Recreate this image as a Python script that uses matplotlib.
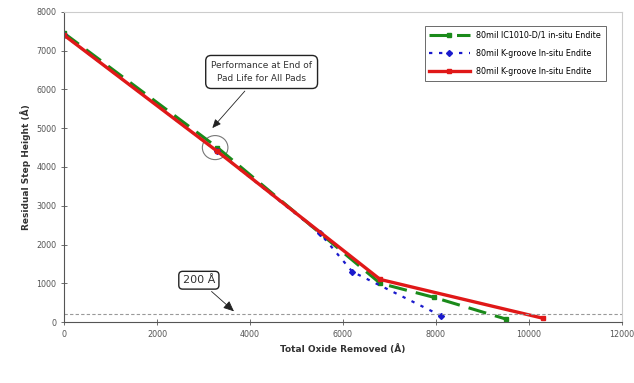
import numpy as np
import matplotlib
matplotlib.use("Agg")
import matplotlib.pyplot as plt
from matplotlib.patches import Ellipse

# data
greenX = [0, 3300, 6800, 7950, 9500]
greenY = [7450, 4500, 1000, 640, 80]
blueX = [0, 3300, 5500, 6200, 8100]
blueY = [7400, 4400, 2300, 1300, 170]
redX = [0, 3300, 6800, 10300]
redY = [7400, 4400, 1100, 100]
labels = ['80mil IC1010-D/1 in-situ Endite',
          '80mil K-groove In-situ Endite',
          '80mil K-groove In-situ Endite']
xTicks = [0, 2000, 4000, 6000, 8000, 10000, 12000]
yTicks = [0, 1000, 2000, 3000, 4000, 5000, 6000, 7000, 8000]
limitY = 200

fig = plt.figure(figsize=(6.34, 3.83), dpi=100)
ax = fig.add_axes([0.101, 0.159, 0.880, 0.810])

ax.plot(greenX, greenY, color='#1a8a1a', linestyle=(0, (6, 3)), linewidth=2.2,
        marker='s', markersize=3, label=labels[0])
ax.plot(blueX, blueY, color='#1a1acc', linestyle=(0, (1.5, 3)), linewidth=1.6,
        marker='D', markersize=3, label=labels[1])
ax.plot(redX, redY, color='#e01818', linestyle='-', linewidth=2.4,
        marker='s', markersize=3, label=labels[2])

ax.axhline(limitY, color='#999999', linestyle=(0, (3, 2)), linewidth=0.8)

ax.set_xlim(0, 12000)
ax.set_ylim(0, 8000)
ax.set_xticks(xTicks)
ax.set_yticks(yTicks)
ax.tick_params(labelsize=5.8, colors='#555555', direction='inout', length=4, width=0.6)
for s in ['left', 'bottom']:
    ax.spines[s].set_color('#555555')
    ax.spines[s].set_linewidth(0.8)
for s in ['top', 'right']:
    ax.spines[s].set_color('#cccccc')
    ax.spines[s].set_linewidth(0.8)

ax.set_xlabel('Total Oxide Removed (Å)', fontsize=6.5, fontweight='bold', color='#333333')
ax.set_ylabel('Residual Step Height (Å)', fontsize=6.5, fontweight='bold', color='#333333')

ax.annotate('Performance at End of\nPad Life for All Pads', xy=(3150, 4950), xytext=(4250, 6450),
            fontsize=6.5, ha='center', va='center', color='#333333', linespacing=1.6,
            bbox=dict(boxstyle='round,pad=0.6', fc='white', ec='#222222', lw=1.0),
            arrowprops=dict(arrowstyle='-|>,head_length=0.8,head_width=0.35',
                            color='#222222', lw=0.6))
ax.add_patch(Ellipse((3250, 4500), 550, 620, fill=False, ec='#777777', lw=0.8))

ax.annotate('200 Å', xy=(3700, 230), xytext=(2900, 1080),
            fontsize=8, ha='center', va='center', color='#333333',
            bbox=dict(boxstyle='round,pad=0.35', fc='white', ec='#222222', lw=1.0),
            arrowprops=dict(arrowstyle='-|>,head_length=0.8,head_width=0.35',
                            color='#222222', lw=0.6))

leg = ax.legend(loc='upper right', fontsize=5.8, frameon=True, fancybox=False,
                edgecolor='#444444', handlelength=5, borderpad=0.6, labelspacing=1.1,
                bbox_to_anchor=(0.978, 0.967))
leg.get_frame().set_linewidth(0.7)

fig.savefig('out.png', dpi=100)
